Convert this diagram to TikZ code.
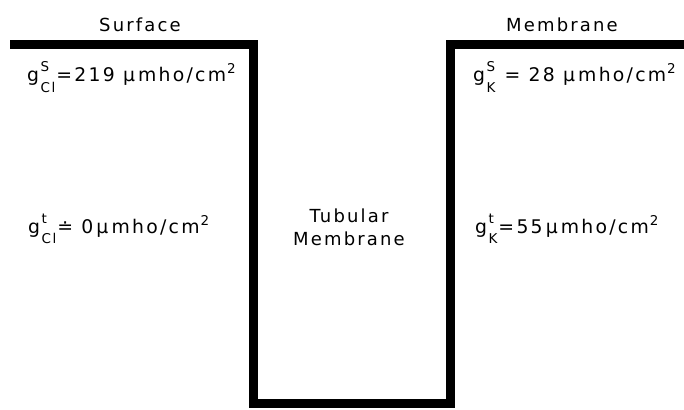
\documentclass[tikz,border=0pt]{standalone}
\usepackage{fontspec}
\setmainfont[LetterSpace=12]{DejaVu Sans}
\newcommand{\scr}[1]{{\fontsize{13.5}{13.5}\selectfont #1}}
\newcommand{\gsym}[2]{g\kern1.5pt\rlap{\raisebox{10pt}{\scr{#1}}}\raisebox{-10pt}{\scr{#2}}\kern1pt}
\newcommand{\sqr}{\kern1pt\raisebox{8pt}{\scr{2}}}
\begin{document}
\begin{tikzpicture}[x=1pt,y=-1pt,
  lbl/.style={inner sep=0pt, font=\fontsize{18}{23}\selectfont},
  glbl/.style={inner sep=0pt, anchor=base west, font=\fontsize{18.8}{23}\selectfont},
  wall/.style={line width=9pt, line join=miter}]
\useasboundingbox (0,0) rectangle (684,409);
\draw[wall] (10,45) -- (253,45) -- (253,403.5) -- (450,403.5) -- (450,45) -- (684,45);
\node[lbl] (surf) at (140,25) {Surface};
\node[lbl] (memb) at (562,25) {Membrane};
\node[glbl] (gcls) at (27,82) {\gsym{S}{Cl}=219 μ\,mho/cm\sqr};
\node[glbl] (gks) at (473,82) {\gsym{S}{K}\ = 28 μ\,mho/cm\sqr};
\node[glbl] (gclt) at (28,233) {\gsym{t}{Cl}≐ 0\,μ\,mho/cm\sqr};
\node[glbl] (gkt) at (475,233) {\gsym{t}{K}=55\,μ\,mho/cm\sqr};
\node[lbl, align=center] (tub) at (349,227) {Tubular\\Membrane};
\end{tikzpicture}
\end{document}
